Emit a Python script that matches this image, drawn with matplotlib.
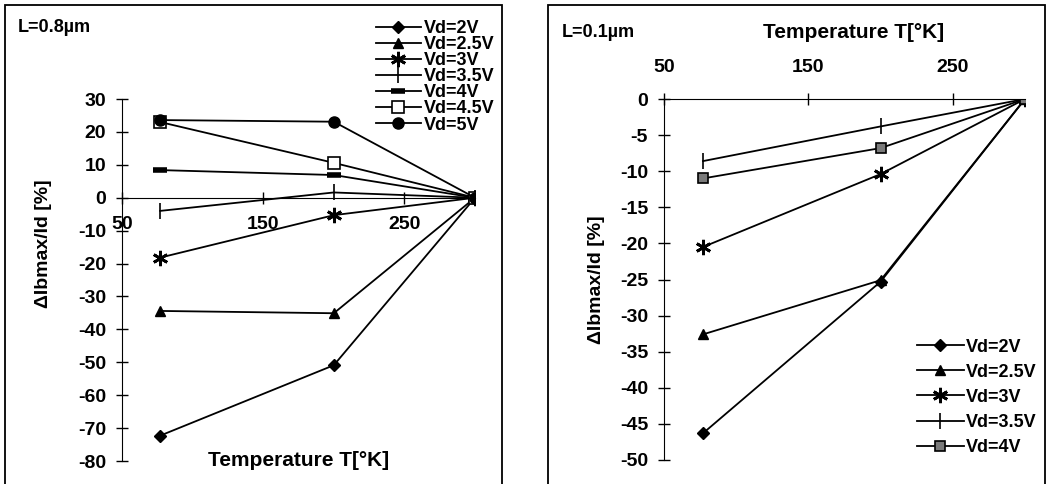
"""
Variation relative de Ibmax/Id en fonction de la température
pour L=0.8um et L=0.1um
"""

import matplotlib
matplotlib.use("Agg")
import matplotlib.pyplot as plt
from matplotlib.patches import Rectangle

plt.rcParams['font.family'] = ['Liberation Sans', 'DejaVu Sans']
plt.rcParams['font.weight'] = 'bold'
plt.rcParams['axes.unicode_minus'] = False

# Données
temps = [77, 200, 300]

labels_08 = ['Vd=2V', 'Vd=2.5V', 'Vd=3V', 'Vd=3.5V', 'Vd=4V', 'Vd=4.5V', 'Vd=5V']
vd2_08 = [-72.3, -50.9, 0]
vd25_08 = [-34.4, -35.1, 0]
vd3_08 = [-18.2, -5.3, 0]
vd35_08 = [-4.0, 1.6, 0]
vd4_08 = [8.4, 6.9, 0]
vd45_08 = [23.0, 10.6, 0]
vd5_08 = [23.6, 23.1, 0]

labels_01 = ['Vd=2V', 'Vd=2.5V', 'Vd=3V', 'Vd=3.5V', 'Vd=4V']
vd2_01 = [-46.3, -25.3, 0]
vd25_01 = [-32.6, -25.1, 0]
vd3_01 = [-20.5, -10.4, 0]
vd35_01 = [-8.6, -3.8, 0]
vd4_01 = [-11.0, -6.8, 0]

yticks_08 = list(range(-80, 31, 10))
yticks_01 = list(range(-50, 1, 5))
xticks = [50, 150, 250]

# style des marqueurs
styles = {
    'Vd=2V': dict(marker='D', ms=6.5, mfc='black'),
    'Vd=2.5V': dict(marker='^', ms=7.5, mfc='black'),
    'Vd=3V': dict(marker=(6, 2, 0), ms=11, mew=2),
    'Vd=3.5V': dict(marker='|', ms=11, mew=1.2),
    'Vd=4V': dict(marker='_', ms=10, mew=4),
    'Vd=4.5V': dict(marker='s', ms=9, mfc='white', mew=1.2),
    'Vd=5V': dict(marker='o', ms=8, mfc='black'),
}
style_4v_01 = dict(marker='s', ms=7, mfc='#7a7a7a', mew=1.2)

W, H = 1057, 484
fig = plt.figure(figsize=(W / 100, H / 100), dpi=100)

# cadres
fig.patches.append(Rectangle((5 / W, -0.1), 497 / W, 1.1 - 5 / H,
                             transform=fig.transFigure, fill=False,
                             edgecolor='black', lw=1.3))
fig.patches.append(Rectangle((548 / W, -0.1), 497 / W, 1.1 - 5 / H,
                             transform=fig.transFigure, fill=False,
                             edgecolor='black', lw=1.3))

ax1 = fig.add_axes([122 / W, 23 / H, 353 / W, 362 / H])
ax2 = fig.add_axes([664 / W, 24 / H, 361 / W, 361 / H])

# ---- L = 0.8 um ----
for lab, vals in zip(labels_08, [vd2_08, vd25_08, vd3_08, vd35_08, vd4_08, vd45_08, vd5_08]):
    ax1.plot(temps, vals, color='black', lw=1.3, mec='black', label=lab, **styles[lab])

ax1.set_xlim(50, 300)
ax1.set_ylim(-80, 30)
ax1.spines['top'].set_visible(False)
ax1.spines['right'].set_visible(False)
ax1.spines['bottom'].set_position(('data', 0))
ax1.set_xticks(xticks)
ax1.set_yticks(yticks_08)
ax1.tick_params(axis='y', direction='inout', length=9, width=1, labelsize=14, pad=7)
ax1.tick_params(axis='x', direction='inout', length=9, width=1, labelsize=14, pad=9)
ax1.set_xlabel('Temperature T[°K]', fontsize=15, fontweight='bold')
ax1.xaxis.set_label_coords(0.5, 0.0)
ax1.xaxis.label.set_va('center')
ax1.set_ylabel('ΔIbmax/Id [%]', fontsize=14, fontweight='bold')
ax1.yaxis.set_label_coords(-0.222, 0.6)
ax1.yaxis.label.set_va('center')
ax1.patch.set_alpha(0)
fig.text(18 / W, 1 - 27 / H, 'L=0.8µm', fontsize=13, fontweight='bold', va='center')
fig.legend(handles=ax1.get_lines(), loc='upper right',
           bbox_to_anchor=(494 / W, 1 - 20 / H), bbox_transform=fig.transFigure,
           frameon=False, fontsize=13, handlelength=2.5, handletextpad=0.15,
           labelspacing=-0.05, borderpad=0, borderaxespad=0)

# ---- L = 0.1 um ----
for lab, vals in zip(labels_01, [vd2_01, vd25_01, vd3_01, vd35_01, vd4_01]):
    st = style_4v_01 if lab == 'Vd=4V' else styles[lab]
    ax2.plot(temps, vals, color='black', lw=1.3, mec='black', label=lab, **st)

ax2.set_xlim(50, 300)
ax2.set_ylim(-50, 0)
ax2.spines['bottom'].set_visible(False)
ax2.spines['right'].set_visible(False)
ax2.xaxis.tick_top()
ax2.xaxis.set_label_position('top')
ax2.set_xticks(xticks)
ax2.set_yticks(yticks_01)
ax2.tick_params(axis='y', direction='inout', length=9, width=1, labelsize=14, pad=7)
ax2.tick_params(axis='x', direction='inout', length=9, width=1, labelsize=14, pad=12)
ax2.set_xlabel('Temperature T[°K]', fontsize=15, fontweight='bold')
ax2.xaxis.set_label_coords(0.524, 1.183)
ax2.xaxis.label.set_va('center')
ax2.set_ylabel('ΔIbmax/Id [%]', fontsize=14, fontweight='bold')
ax2.yaxis.set_label_coords(-0.186, 0.5)
ax2.yaxis.label.set_va('center')
ax2.patch.set_alpha(0)
fig.text(562 / W, 1 - 33 / H, 'L=0.1µm', fontsize=13, fontweight='bold', va='center')
fig.legend(handles=ax2.get_lines(), loc='lower right',
           bbox_to_anchor=(1037 / W, 1 - 456 / H), bbox_transform=fig.transFigure,
           frameon=False, fontsize=13, handlelength=2.6, handletextpad=0.15,
           labelspacing=0.45, borderpad=0, borderaxespad=0)

for ax in (ax1, ax2):
    for t in ax.get_xticklabels() + ax.get_yticklabels():
        t.set_fontweight('bold')

fig.savefig('out.png', dpi=100)
